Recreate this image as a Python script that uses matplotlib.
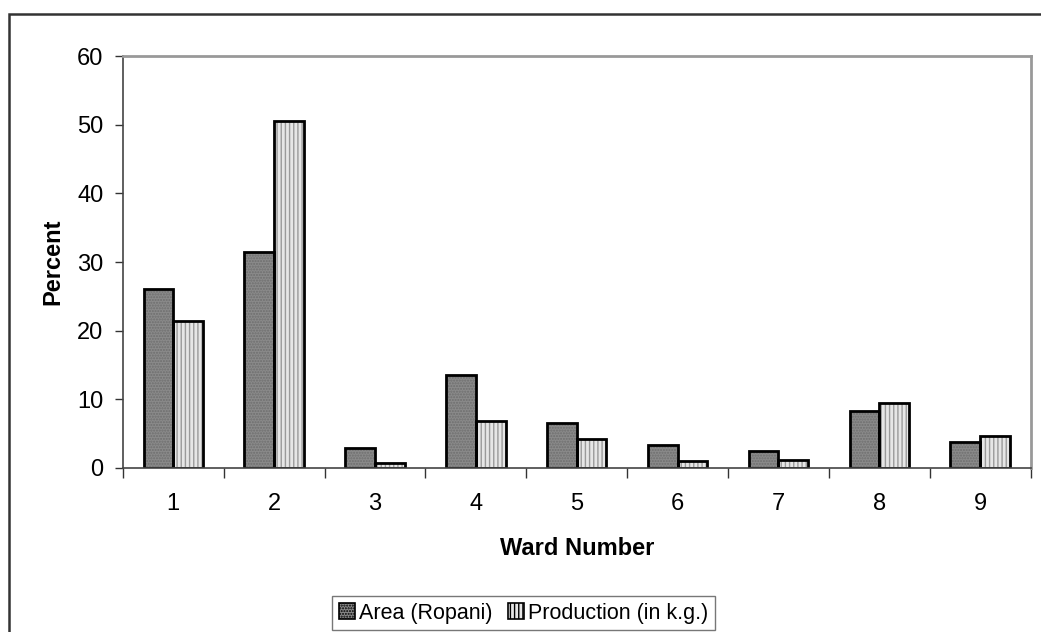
import matplotlib
matplotlib.use('Agg')
import numpy as np
import matplotlib.pyplot as plt
from matplotlib.patches import Patch, Rectangle

plt.rcParams['font.family'] = ['Liberation Sans', 'DejaVu Sans']
plt.rcParams['hatch.linewidth'] = 1.0

wards = ['1', '2', '3', '4', '5', '6', '7', '8', '9']
area = [26.1, 31.5, 2.9, 13.6, 6.5, 3.3, 2.5, 8.3, 3.8]
production = [21.4, 50.5, 0.8, 6.8, 4.2, 1.0, 1.2, 9.5, 4.6]
yticks = [0, 10, 20, 30, 40, 50, 60]

fig = plt.figure(figsize=(10.41, 6.32), dpi=100)
ax = fig.add_axes([0.118, 0.2595, 0.872, 0.6515])

x = np.arange(1, len(wards) + 1)
w = 0.295
fs = 17

# fill + hatch first, black outline on top
ax.bar(x - w / 2, area, w, color='#8a8a8a', hatch='......', edgecolor='#6e6e6e', linewidth=0)
ax.bar(x + w / 2, production, w, color='#e6e6e6', hatch='||||', edgecolor='#9a9a9a', linewidth=0)
ax.bar(x - w / 2, area, w, fill=False, edgecolor='black', linewidth=2)
ax.bar(x + w / 2, production, w, fill=False, edgecolor='black', linewidth=2)

ax.set_xlim(0.5, len(wards) + 0.5)
ax.set_ylim(0, 60)
ax.set_yticks(yticks)
ax.set_xticks(np.arange(0.5, len(wards) + 1, 1))
ax.set_xticklabels([])
ax.set_xticks(x, minor=True)
ax.set_xticklabels(wards, minor=True)
ax.tick_params(axis='x', which='minor', length=0, pad=18, labelsize=fs)
ax.tick_params(axis='x', which='major', length=7, width=1, color='#333333')
ax.tick_params(axis='y', length=6, width=1, color='#333333', labelsize=fs, pad=8)

for s in ['top', 'right']:
    ax.spines[s].set_color('#999999')
    ax.spines[s].set_linewidth(2)
for s in ['left', 'bottom']:
    ax.spines[s].set_color('#444444')
    ax.spines[s].set_linewidth(1.2)

ax.set_xlabel('Ward Number', fontsize=fs, fontweight='bold', labelpad=16)
ax.set_ylabel('Percent', fontsize=fs, fontweight='bold', labelpad=9)

handles = [Patch(facecolor='#8a8a8a', hatch='......', edgecolor='black', linewidth=1.2),
           Patch(facecolor='#e6e6e6', hatch='||||', edgecolor='black', linewidth=1.2)]
leg = fig.legend(handles, ['Area (Ropani)', 'Production (in k.g.)'], loc='center',
                 bbox_to_anchor=(0.503, 0.030), ncol=2, fontsize=15.5, frameon=True,
                 fancybox=False, edgecolor='#555555', handlelength=0.75, handleheight=0.75,
                 handletextpad=0.2, columnspacing=0.7, borderpad=0.3)
leg.get_frame().set_linewidth(1.0)

# outer chart border
fig.add_artist(Rectangle((9 / 1041, -0.05), 1.2, 1.05 - 14 / 632, transform=fig.transFigure,
                         fill=False, edgecolor='#333333', linewidth=1.8))

plt.savefig('out.png', dpi=100)
